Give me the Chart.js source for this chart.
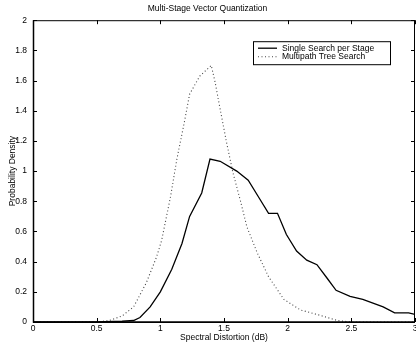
<!DOCTYPE html>
<html lang="en">
<head>
    <meta charset="UTF-8">
    <title>Multi-Stage Vector Quantization</title>
    <script src="https://cdn.jsdelivr.net/npm/chart.js"></script>
    <style>
        body { margin: 0; background: #fff; }
        #wrap { width: 416px; height: 353px; }
    </style>
</head>
<body>
    <div id="wrap"><canvas id="chart" width="416" height="353"></canvas></div>

    <script>
        // values
        const singleX = [0, 0.5, 0.7, 0.79, 0.84, 0.92, 1.0, 1.09, 1.17, 1.23, 1.325, 1.39, 1.47, 1.60, 1.69, 1.77, 1.85, 1.92, 1.99, 2.07, 2.15, 2.23, 2.31, 2.38, 2.49, 2.59, 2.75, 2.84, 2.95, 3.0];
        const singleY = [0, 0, 0.005, 0.01, 0.03, 0.10, 0.2, 0.35, 0.52, 0.70, 0.855, 1.08, 1.065, 1.00, 0.94, 0.83, 0.72, 0.72, 0.58, 0.47, 0.41, 0.38, 0.29, 0.21, 0.17, 0.15, 0.10, 0.06, 0.06, 0.05];

        const multiX = [0, 0.5, 0.6, 0.7, 0.79, 0.89, 0.97, 1.01, 1.08, 1.13, 1.19, 1.23, 1.31, 1.40, 1.43, 1.47, 1.52, 1.57, 1.63, 1.68, 1.76, 1.85, 1.97, 2.10, 2.23, 2.39, 2.5, 3.0];
        const multiY = [0, 0, 0.01, 0.04, 0.10, 0.26, 0.43, 0.54, 0.83, 1.08, 1.33, 1.51, 1.63, 1.70, 1.59, 1.41, 1.19, 0.99, 0.80, 0.63, 0.46, 0.30, 0.15, 0.08, 0.05, 0.01, 0, 0];

        const seriesLabels = ['Single Search per Stage', 'Multipath Tree Search'];
        const xTicks = [0, 0.5, 1, 1.5, 2, 2.5, 3];
        const yTicks = [0, 0.2, 0.4, 0.6, 0.8, 1, 1.2, 1.4, 1.6, 1.8, 2];

        const FONT = 'Liberation Sans, Arial, Helvetica, sans-serif';
        const FSIZE = 8.5;

        function toPoints(xs, ys) {
            return xs.map((x, i) => ({ x: x, y: ys[i] }));
        }

        // box around the axes plus inward ticks on all four sides (matlab look)
        const framePlugin = {
            id: 'frame',
            afterDatasetsDraw(chart) {
                const { ctx, chartArea: a, scales } = chart;
                ctx.save();
                ctx.strokeStyle = '#000';
                ctx.lineWidth = 1;
                ctx.strokeRect(a.left + 0.5, a.top + 0.5, a.right - a.left - 1, a.bottom - a.top);
                ctx.lineWidth = 1.5;
                ctx.beginPath();
                ctx.moveTo(a.left + 0.5, a.top);
                ctx.lineTo(a.left + 0.5, a.bottom);
                ctx.lineTo(a.right, a.bottom);
                ctx.stroke();
                ctx.lineWidth = 1;
                const len = 4;
                ctx.beginPath();
                xTicks.forEach(v => {
                    const px = Math.round(scales.x.getPixelForValue(v)) + 0.5;
                    ctx.moveTo(px, a.bottom); ctx.lineTo(px, a.bottom - len);
                    ctx.moveTo(px, a.top); ctx.lineTo(px, a.top + len);
                });
                yTicks.forEach(v => {
                    const py = Math.round(scales.y.getPixelForValue(v)) + 0.5;
                    ctx.moveTo(a.left, py); ctx.lineTo(a.left + len, py);
                    ctx.moveTo(a.right, py); ctx.lineTo(a.right - len, py);
                });
                ctx.stroke();

                // legend box, top right inside the axes
                const bx = a.right - 162, by = a.top + 21, bw = 137, bh = 23;
                ctx.fillStyle = '#fff';
                ctx.fillRect(bx, by, bw, bh);
                ctx.strokeRect(bx + 0.5, by + 0.5, bw, bh);
                ctx.font = FSIZE + 'px ' + FONT;
                ctx.textBaseline = 'middle';
                chart.data.datasets.forEach((ds, i) => {
                    const ly = by + 7 + i * 8.5;
                    ctx.strokeStyle = ds.borderColor;
                    ctx.lineWidth = ds.borderWidth;
                    ctx.setLineDash(ds.borderDash || []);
                    ctx.beginPath();
                    ctx.moveTo(bx + 5, ly);
                    ctx.lineTo(bx + 24, ly);
                    ctx.stroke();
                    ctx.setLineDash([]);
                    ctx.fillStyle = '#000';
                    ctx.fillText(ds.label, bx + 29, ly);
                });
                ctx.restore();
            }
        };

        const ctx = document.getElementById('chart').getContext('2d');
        const chart = new Chart(ctx, {
            type: 'line',
            data: {
                datasets: [
                    {
                        label: seriesLabels[0],
                        data: toPoints(singleX, singleY),
                        borderColor: '#000',
                        borderWidth: 1.3,
                        pointRadius: 0,
                        tension: 0
                    },
                    {
                        label: seriesLabels[1],
                        data: toPoints(multiX, multiY),
                        borderColor: '#444',
                        borderWidth: 1.1,
                        borderDash: [1, 2.5],
                        pointRadius: 0,
                        tension: 0
                    }
                ]
            },
            options: {
                responsive: false,
                animation: false,
                events: [],
                layout: { padding: { left: 0, right: 1, top: 0, bottom: 0 } },
                plugins: {
                    legend: { display: false },
                    tooltip: { enabled: false },
                    title: {
                        display: true,
                        text: 'Multi-Stage Vector Quantization',
                        color: '#000',
                        font: { family: FONT, size: FSIZE, weight: 'normal' },
                        padding: { top: 4, bottom: 6 }
                    }
                },
                scales: {
                    x: {
                        type: 'linear',
                        min: 0,
                        max: 3,
                        afterBuildTicks: s => { s.ticks = xTicks.map(v => ({ value: v })); },
                        afterFit: s => { s.height = 31; s.paddingLeft = 0; s.paddingRight = 0; },
                        grid: { display: false, drawTicks: false },
                        border: { display: false },
                        ticks: {
                            color: '#000',
                            padding: 2,
                            maxRotation: 0,
                            autoSkip: false,
                            font: { family: FONT, size: FSIZE },
                            callback: v => String(v)
                        },
                        title: {
                            display: true,
                            text: 'Spectral Distortion (dB)',
                            color: '#000',
                            font: { family: FONT, size: FSIZE },
                            padding: { top: 0, bottom: 10 }
                        }
                    },
                    y: {
                        type: 'linear',
                        min: 0,
                        max: 2,
                        afterBuildTicks: s => { s.ticks = yTicks.map(v => ({ value: v })); },
                        afterFit: s => { s.width = 33; s.paddingTop = 0; s.paddingBottom = 0; },
                        grid: { display: false, drawTicks: false },
                        border: { display: false },
                        ticks: {
                            color: '#000',
                            padding: 6,
                            autoSkip: false,
                            font: { family: FONT, size: FSIZE },
                            callback: v => String(v)
                        },
                        title: {
                            display: true,
                            text: 'Probability Density',
                            color: '#000',
                            font: { family: FONT, size: FSIZE },
                            padding: { top: 8, bottom: 0 }
                        }
                    }
                }
            },
            plugins: [framePlugin]
        });
    </script>
</body>
</html>
